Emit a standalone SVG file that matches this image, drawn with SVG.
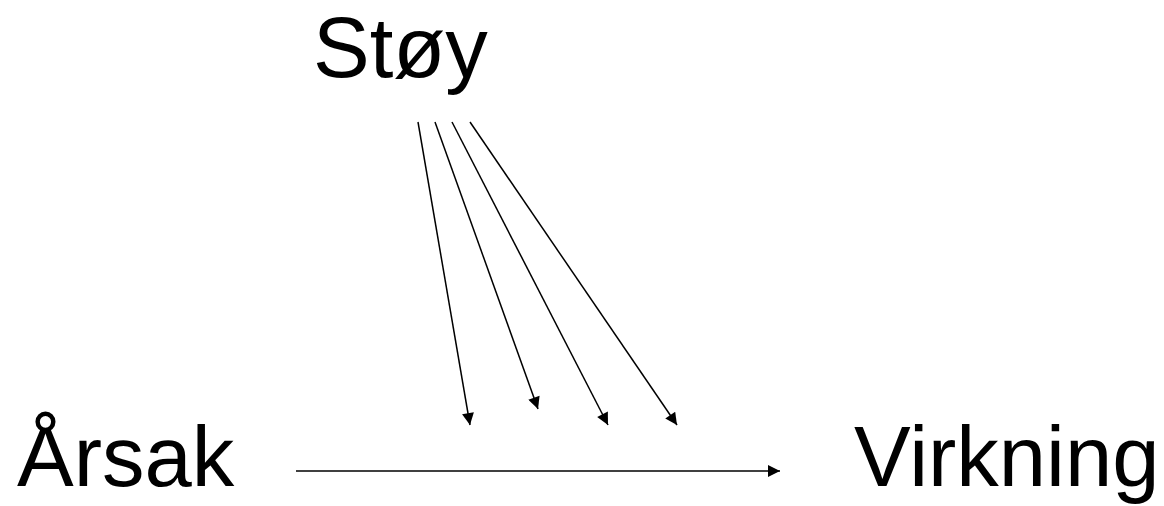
<svg xmlns="http://www.w3.org/2000/svg" width="1164" height="506" viewBox="0 0 1164 506">
<defs>
<style>
.lbl{font-family:"Liberation Sans",Arial,sans-serif;font-size:85px;fill:#000}
.c{stroke:#000;stroke-width:1.5;fill:none;marker-end:url(#ah)}
</style>
<marker id="ah" viewBox="0 0 10 10" refX="10" refY="5" markerWidth="16" markerHeight="12" markerUnits="userSpaceOnUse" orient="auto">
<path d="M0,0 L10,5 L0,10 z" fill="#000"/>
</marker>
</defs>
<rect width="1164" height="506" fill="#fff"/>
<g id="stoy"><text class="lbl" x="313" y="77">Støy</text></g>
<g id="arsak"><text class="lbl" x="17" y="486">Årsak</text></g>
<g id="virkning"><text class="lbl" x="854" y="486">Virkning</text></g>
<g id="connectors">
<line class="c" x1="296" y1="471" x2="780" y2="471"/>
<line class="c" x1="418" y1="122" x2="470" y2="425"/>
<line class="c" x1="435" y1="122" x2="538" y2="409"/>
<line class="c" x1="452" y1="122" x2="608" y2="425"/>
<line class="c" x1="470" y1="122" x2="677" y2="425"/>
</g>
</svg>
